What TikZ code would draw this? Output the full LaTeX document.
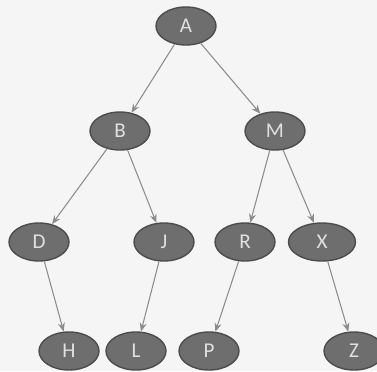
\documentclass[tikz,border=0pt]{standalone}
\usepackage{fontspec}
\setsansfont{Carlito}
\usetikzlibrary{arrows.meta,shapes.geometric}

\begin{document}
\begin{tikzpicture}[x=0.02cm,y=-0.02cm,>={Stealth[length=5pt,width=4pt]},line join=round,
  vertex/.style={ellipse,draw=black!70,fill=black!57,line width=0.8pt,minimum width=1.2cm,minimum height=0.76cm,inner sep=0pt,text=black!12,font=\sffamily\fontsize{12}{14}\selectfont},
  link/.style={->,draw=black!45,line width=0.6pt}]
% background
\fill[black!4] (0,0) rectangle (377,371);
\useasboundingbox (0,0) rectangle (377,371);
% nodes
\node[vertex] (A) at (186,26) {A};
\node[vertex] (B) at (120,131) {B};
\node[vertex] (M) at (275,131) {M};
\node[vertex] (D) at (39,242) {D};
\node[vertex] (J) at (164,242) {J};
\node[vertex] (R) at (245,242) {R};
\node[vertex,minimum width=1.34cm] (X) at (322,242) {X};
\node[vertex] (H) at (69,351) {H};
\node[vertex] (L) at (136,351) {L};
\node[vertex] (P) at (209,351) {P};
\node[vertex] (Z) at (354,351) {Z};
% edges
\foreach \u/\v in {A/B,A/M,B/D,B/J,M/R,M/X,D/H,J/L,R/P,X/Z}
  \draw[link] (\u) -- (\v);
\end{tikzpicture}
\end{document}
